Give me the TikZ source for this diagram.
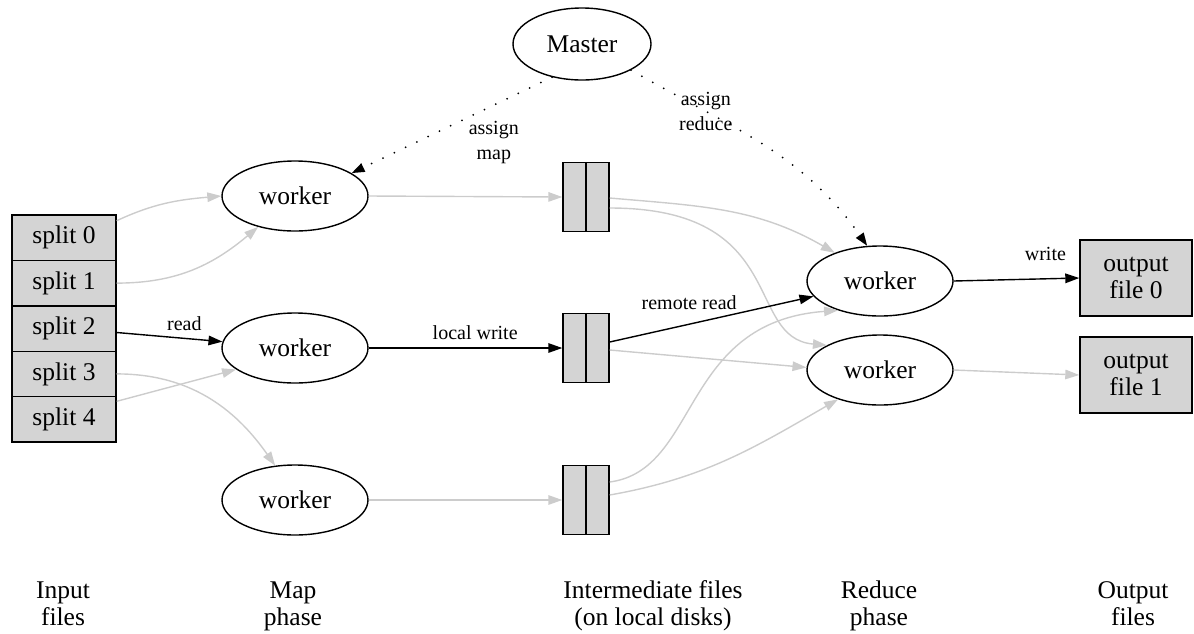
\documentclass[tikz,border=0pt]{standalone}
\usepackage{fontspec}
\setmainfont{Liberation Serif}
\usetikzlibrary{arrows.meta,shapes.geometric}

\begin{document}
\begin{tikzpicture}[x=1pt,y=-1pt,
    font=\fontsize{25.5}{27.5}\selectfont,
    proc/.style={draw,ellipse,line width=1.4pt,minimum width=146pt,minimum height=70pt,inner sep=0pt},
    split/.style={draw,fill=black!17,line width=1.4pt,minimum width=104pt,minimum height=45.4pt,inner sep=0pt},
    ifile/.style={draw,fill=black!17,line width=1.4pt,minimum width=46pt,minimum height=69pt,inner sep=0pt},
    ofile/.style={draw,fill=black!17,line width=1.4pt,minimum width=112pt,minimum height=76pt,align=center,inner sep=0pt},
    phase/.style={align=center,anchor=north,inner sep=0pt},
    lbl/.style={font=\fontsize{20}{25}\selectfont,align=center,inner sep=0pt},
    flow/.style={-{Triangle[length=14pt,width=9.5pt]},line width=1.4pt},
    idle/.style={flow,draw=black!20},
    ctrl/.style={-{Triangle[length=13pt,width=9pt]},line width=2pt,line cap=round,dash pattern=on 0pt off 12.5pt}]
  \useasboundingbox (0,0) rectangle (1194,633);
  \draw
    (582,44) node[proc,minimum width=138pt,minimum height=72pt] (master){Master}
    (64,237.7) node[split] (s0){split 0}
    (64,283.1) node[split] (s1){split 1}
    (64,328.5) node[split] (s2){split 2}
    (64,373.9) node[split] (s3){split 3}
    (64,419.3) node[split] (s4){split 4}
    (295,196) node[proc] (map0){worker}
    (295,348) node[proc] (map1){worker}
    (295,500) node[proc] (map2){worker}
    (586,197) node[ifile] (inter0){}
    (586,348) node[ifile] (inter1){}
    (586,500) node[ifile] (inter2){}
    (880,281) node[proc] (red0){worker}
    (880,370) node[proc] (red1){worker}
    (1136,278) node[ofile] (out0){output\\file 0}
    (1136,375) node[ofile] (out1){output\\file 1}
    (63,579) node[phase] (inph){Input\strut\\files}
    (293,579) node[phase] (mapph){Map\strut\\phase}
    (653,579) node[phase] (interph){Intermediate files\strut\\(on local disks)}
    (879,579) node[phase] (redph){Reduce\strut\\phase}
    (1133,579) node[phase] (outph){Output\strut\\files};
  % two halves of each intermediate file
  \draw[line width=1.4pt] (inter0.north) -- (inter0.south);
  \draw[line width=1.4pt] (inter1.north) -- (inter1.south);
  \draw[line width=1.4pt] (inter2.north) -- (inter2.south);
  % master assigns tasks
  \draw[ctrl] (master.-132) -- node[lbl,pos=0.68,xshift=78pt] (lblmap){assign\\map} (map0.22);
  \draw[ctrl] (master.-28) to[out=-30,in=125] node[lbl,pos=0.27] (lblred){assign\\reduce} (red0.110);
  % map phase
  \begin{scope}
    \draw[idle] ([yshift=17pt]s0.east) to[out=25,in=185] (map0.west);
    \draw[idle] (s1.east) to[out=0,in=220] (map0.-140);
    \draw[flow] ([yshift=-4pt]s2.east) -- node[lbl,pos=0.64,above=7pt] (lblread){read} (map1.175);
    \draw[idle] (s3.east) to[out=0,in=125] (map2.120);
    \draw[idle] ([yshift=18pt]s4.east) -- (map1.-160);
    \draw[idle] (map0.east) -- (inter0.west);
    \draw[flow] (map1.east) -- node[lbl,pos=0.55,above=8pt] (lbllocal){local write} (inter1.west);
    \draw[idle] (map2.east) -- (inter2.west);
  \end{scope}
  % reduce phase
  \begin{scope}
    \draw[idle] ([yshift=-1pt]inter0.east) to[out=-5,in=150] (red0.148);
    \draw[idle] ([yshift=-11pt]inter0.east) .. controls (790,208) and (744,338) .. (red1.155);
    \draw[flow] ([yshift=6pt]inter1.east) -- node[lbl,pos=0.39,above=14pt] (lblremote){remote read} (red0.-167);
    \draw[idle] ([yshift=-2pt]inter1.east) -- (red1.178);
    \draw[idle] ([yshift=18pt]inter2.east) .. controls (700,470) and (680,322) .. (red0.-145);
    \draw[idle] ([yshift=5pt]inter2.east) to[out=10,in=210] (red1.-145);
    \draw[flow] (red0.east) -- node[lbl,pos=0.73,above=17pt] (lblwrite){write} (out0.west);
    \draw[idle] (red1.east) -- (out1.west);
  \end{scope}
\end{tikzpicture}
\end{document}
